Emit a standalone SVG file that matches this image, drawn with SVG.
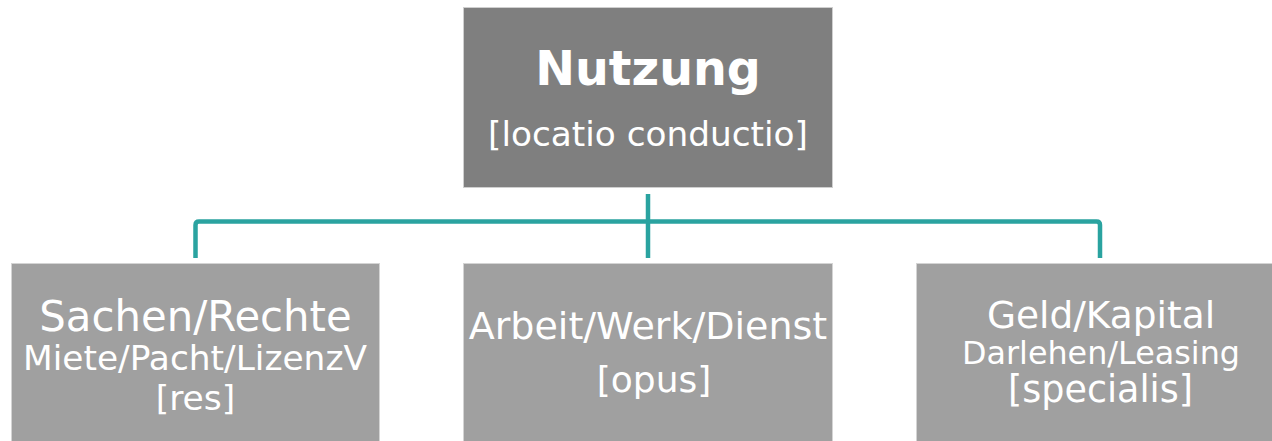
<svg xmlns="http://www.w3.org/2000/svg" width="1272" height="441" viewBox="0 0 1272 441">
<style>
.top{fill:#7f7f7f;stroke:#cfcfcf;stroke-width:1}
.box{fill:#a0a0a0;stroke:#d4d4d4;stroke-width:1}
text{font-family:"DejaVu Sans",Verdana,sans-serif;fill:#ffffff;text-anchor:middle}
.b{font-weight:bold}
.conn{fill:none;stroke:#2aa3a0;stroke-width:4.5;stroke-linejoin:round}
</style>
<rect width="1272" height="441" fill="#ffffff"/>
<g id="connectors">
<path class="conn" d="M648,194 V258"/>
<path class="conn" d="M195.5,258 V225 Q195.5,221.5 199,221.5 H1096.5 Q1100,221.5 1100,225 V258"/>
</g>
<g id="nutzung">
<rect class="top" x="463.5" y="7.5" width="369" height="180"/>
<text class="b" x="648" y="85" font-size="47.5">Nutzung</text>
<text x="648" y="146" font-size="34.3">[locatio conductio]</text>
</g>
<g id="sachen">
<rect class="box" x="11.5" y="263.5" width="368" height="190"/>
<text x="195.5" y="331" font-size="41.8">Sachen/Rechte</text>
<text x="195" y="370" font-size="34.4">Miete/Pacht/LizenzV</text>
<text x="195.5" y="410" font-size="34.5">[res]</text>
</g>
<g id="arbeit">
<rect class="box" x="463.5" y="263.5" width="369" height="190"/>
<text x="648" y="339" font-size="38">Arbeit/Werk/Dienst</text>
<text x="654" y="392" font-size="36">[opus]</text>
</g>
<g id="geld">
<rect class="box" x="916.5" y="263.5" width="369" height="190"/>
<text x="1101" y="328" font-size="37.5">Geld/Kapital</text>
<text x="1101" y="364" font-size="31.8">Darlehen/Leasing</text>
<text x="1100.5" y="402" font-size="36.5">[specialis]</text>
</g>
</svg>
